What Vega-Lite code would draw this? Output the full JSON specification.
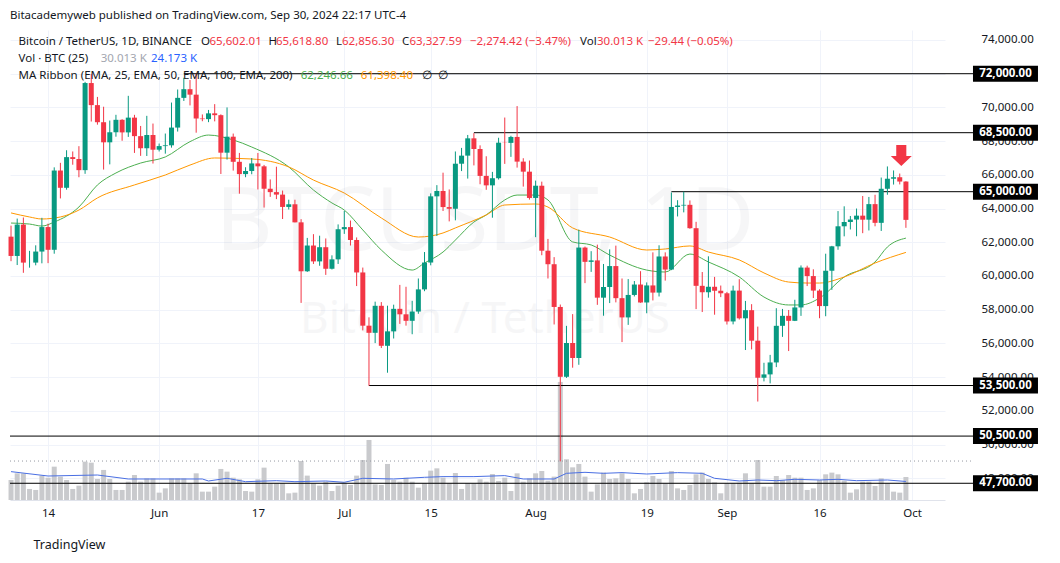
{
  "$schema": "https://vega.github.io/schema/vega-lite/v6.json",
  "width": 935,
  "height": 470,
  "autosize": {"type": "none"},
  "padding": {"left": 10, "top": 30, "right": 115, "bottom": 63},
  "background": "#ffffff",
  "title": {"text": "Bitacademyweb published on TradingView.com, Sep 30, 2024 22:17 UTC-4", "anchor": "start", "frame": "group", "offset": 9, "fontSize": 11.5, "fontWeight": "normal", "color": "#131722", "font": "Noto Sans"},
  "config": {"view": {"stroke": null}, "font": "Noto Sans", "text": {"font": "Noto Sans"}},
  "datasets": {
    "one": [{"k": 1}],
    "candles": [
      {"date":"2024-05-08","open":62332,"high":62986,"low":60877,"close":61187,"volume":26.1},
      {"date":"2024-05-09","open":61187,"high":63404,"low":60648,"close":63049,"volume":34.8},
      {"date":"2024-05-10","open":63049,"high":63469,"low":60187,"close":60792,"volume":34.8},
      {"date":"2024-05-11","open":60792,"high":61490,"low":60492,"close":60793,"volume":14.4},
      {"date":"2024-05-12","open":60793,"high":61818,"low":60632,"close":61448,"volume":13.1},
      {"date":"2024-05-13","open":61448,"high":63450,"low":60750,"close":62901,"volume":31.8},
      {"date":"2024-05-14","open":62901,"high":63102,"low":60760,"close":61553,"volume":29.1},
      {"date":"2024-05-15","open":61553,"high":66444,"low":61320,"close":66256,"volume":43.5},
      {"date":"2024-05-16","open":66256,"high":66712,"low":64600,"close":65231,"volume":30.5},
      {"date":"2024-05-17","open":65231,"high":67459,"low":65119,"close":67051,"volume":26.1},
      {"date":"2024-05-18","open":67051,"high":67387,"low":66600,"close":66940,"volume":14.4},
      {"date":"2024-05-19","open":66940,"high":67700,"low":65857,"close":66278,"volume":18.7},
      {"date":"2024-05-20","open":66278,"high":71515,"low":66060,"close":71446,"volume":50.0},
      {"date":"2024-05-21","open":71446,"high":71979,"low":69162,"close":70136,"volume":48.7},
      {"date":"2024-05-22","open":70136,"high":70623,"low":68977,"close":69122,"volume":27.4},
      {"date":"2024-05-23","open":69122,"high":70041,"low":66312,"close":67929,"volume":39.2},
      {"date":"2024-05-24","open":67929,"high":69220,"low":66622,"close":68526,"volume":27.4},
      {"date":"2024-05-25","open":68526,"high":69562,"low":68262,"close":69265,"volume":13.1},
      {"date":"2024-05-26","open":69265,"high":69300,"low":68022,"close":68518,"volume":13.1},
      {"date":"2024-05-27","open":68518,"high":70687,"low":68250,"close":69394,"volume":23.9},
      {"date":"2024-05-28","open":69394,"high":69560,"low":67300,"close":68296,"volume":32.6},
      {"date":"2024-05-29","open":68296,"high":68900,"low":67125,"close":67578,"volume":23.9},
      {"date":"2024-05-30","open":67578,"high":69500,"low":67118,"close":68364,"volume":28.3},
      {"date":"2024-05-31","open":68364,"high":69042,"low":66670,"close":67491,"volume":28.3},
      {"date":"2024-06-01","open":67491,"high":67857,"low":67387,"close":67706,"volume":9.6},
      {"date":"2024-06-02","open":67706,"high":68450,"low":67257,"close":67751,"volume":15.2},
      {"date":"2024-06-03","open":67751,"high":70288,"low":67613,"close":68804,"volume":28.3},
      {"date":"2024-06-04","open":68804,"high":71063,"low":68567,"close":70567,"volume":28.3},
      {"date":"2024-06-05","open":70567,"high":71758,"low":70383,"close":71082,"volume":28.3},
      {"date":"2024-06-06","open":71082,"high":71625,"low":70119,"close":70757,"volume":21.8},
      {"date":"2024-06-07","open":70757,"high":71997,"low":68500,"close":69342,"volume":34.8},
      {"date":"2024-06-08","open":69342,"high":69584,"low":69180,"close":69305,"volume":10.9},
      {"date":"2024-06-09","open":69305,"high":69850,"low":69125,"close":69648,"volume":10.9},
      {"date":"2024-06-10","open":69648,"high":70195,"low":69172,"close":69540,"volume":17.4},
      {"date":"2024-06-11","open":69540,"high":69590,"low":66051,"close":67314,"volume":40.5},
      {"date":"2024-06-12","open":67314,"high":69999,"low":66905,"close":68263,"volume":37.0},
      {"date":"2024-06-13","open":68263,"high":68449,"low":66251,"close":66773,"volume":29.1},
      {"date":"2024-06-14","open":66773,"high":67300,"low":64882,"close":66043,"volume":27.0},
      {"date":"2024-06-15","open":66043,"high":66450,"low":65858,"close":66229,"volume":11.7},
      {"date":"2024-06-16","open":66229,"high":66998,"low":66034,"close":66677,"volume":10.9},
      {"date":"2024-06-17","open":66677,"high":67298,"low":65130,"close":66505,"volume":27.0},
      {"date":"2024-06-18","open":66505,"high":66588,"low":64060,"close":65175,"volume":42.2},
      {"date":"2024-06-19","open":65175,"high":65727,"low":64693,"close":64974,"volume":21.8},
      {"date":"2024-06-20","open":64974,"high":66482,"low":64559,"close":64828,"volume":21.8},
      {"date":"2024-06-21","open":64828,"high":65066,"low":63379,"close":64096,"volume":21.8},
      {"date":"2024-06-22","open":64096,"high":64525,"low":63943,"close":64253,"volume":8.7},
      {"date":"2024-06-23","open":64253,"high":64523,"low":63180,"close":63181,"volume":9.6},
      {"date":"2024-06-24","open":63181,"high":63370,"low":58402,"close":60277,"volume":50.9},
      {"date":"2024-06-25","open":60277,"high":62258,"low":60240,"close":61806,"volume":31.8},
      {"date":"2024-06-26","open":61806,"high":62480,"low":60712,"close":60864,"volume":21.8},
      {"date":"2024-06-27","open":60864,"high":62389,"low":60606,"close":61706,"volume":18.7},
      {"date":"2024-06-28","open":61706,"high":62225,"low":60063,"close":60427,"volume":23.9},
      {"date":"2024-06-29","open":60427,"high":61224,"low":60383,"close":60986,"volume":11.7},
      {"date":"2024-06-30","open":60986,"high":63058,"low":60712,"close":62772,"volume":18.7},
      {"date":"2024-07-01","open":62772,"high":63861,"low":62497,"close":62900,"volume":21.8},
      {"date":"2024-07-02","open":62900,"high":63288,"low":61806,"close":62135,"volume":19.6},
      {"date":"2024-07-03","open":62135,"high":62285,"low":59400,"close":60208,"volume":31.8},
      {"date":"2024-07-04","open":60208,"high":60498,"low":56771,"close":57050,"volume":52.2},
      {"date":"2024-07-05","open":57050,"high":57546,"low":53485,"close":56628,"volume":78.3},
      {"date":"2024-07-06","open":56628,"high":58475,"low":56018,"close":58230,"volume":20.4},
      {"date":"2024-07-07","open":58230,"high":58449,"low":55724,"close":55857,"volume":19.6},
      {"date":"2024-07-08","open":55857,"high":58236,"low":54260,"close":56714,"volume":47.0},
      {"date":"2024-07-09","open":56714,"high":58296,"low":56290,"close":58050,"volume":26.1},
      {"date":"2024-07-10","open":58050,"high":59470,"low":57157,"close":57725,"volume":23.9},
      {"date":"2024-07-11","open":57725,"high":59359,"low":57052,"close":57339,"volume":29.1},
      {"date":"2024-07-12","open":57339,"high":58526,"low":56542,"close":57889,"volume":23.9},
      {"date":"2024-07-13","open":57889,"high":59850,"low":57756,"close":59204,"volume":16.1},
      {"date":"2024-07-14","open":59204,"high":61420,"low":59096,"close":60797,"volume":21.8},
      {"date":"2024-07-15","open":60797,"high":64900,"low":60632,"close":64724,"volume":38.3},
      {"date":"2024-07-16","open":64724,"high":65388,"low":62373,"close":65043,"volume":41.3},
      {"date":"2024-07-17","open":65043,"high":66128,"low":63854,"close":64087,"volume":29.1},
      {"date":"2024-07-18","open":64087,"high":65133,"low":63238,"close":63987,"volume":21.8},
      {"date":"2024-07-19","open":63987,"high":67386,"low":63300,"close":66660,"volume":35.2},
      {"date":"2024-07-20","open":66660,"high":67598,"low":66222,"close":67139,"volume":14.4},
      {"date":"2024-07-21","open":67139,"high":68366,"low":65777,"close":68165,"volume":21.8},
      {"date":"2024-07-22","open":68165,"high":68474,"low":66559,"close":67532,"volume":21.8},
      {"date":"2024-07-23","open":67532,"high":67750,"low":65441,"close":65936,"volume":27.0},
      {"date":"2024-07-24","open":65936,"high":67102,"low":65111,"close":65376,"volume":23.9},
      {"date":"2024-07-25","open":65376,"high":66175,"low":63456,"close":65799,"volume":33.9},
      {"date":"2024-07-26","open":65799,"high":68200,"low":65722,"close":67907,"volume":24.8},
      {"date":"2024-07-27","open":67907,"high":69399,"low":66650,"close":67896,"volume":29.1},
      {"date":"2024-07-28","open":67896,"high":68318,"low":67066,"close":68249,"volume":11.7},
      {"date":"2024-07-29","open":68249,"high":70079,"low":66428,"close":66784,"volume":34.8},
      {"date":"2024-07-30","open":66784,"high":66984,"low":65302,"close":66188,"volume":23.9},
      {"date":"2024-07-31","open":66188,"high":66849,"low":64530,"close":64628,"volume":28.3},
      {"date":"2024-08-01","open":64628,"high":65659,"low":62302,"close":65354,"volume":34.8},
      {"date":"2024-08-02","open":65354,"high":65596,"low":61230,"close":61498,"volume":37.8},
      {"date":"2024-08-03","open":61498,"high":62198,"low":59850,"close":60697,"volume":25.2},
      {"date":"2024-08-04","open":60697,"high":61117,"low":57122,"close":58161,"volume":30.5},
      {"date":"2024-08-05","open":58161,"high":58305,"low":49000,"close":54018,"volume":154},
      {"date":"2024-08-06","open":54018,"high":57040,"low":53950,"close":56022,"volume":53.1},
      {"date":"2024-08-07","open":56022,"high":57736,"low":54558,"close":55134,"volume":42.6},
      {"date":"2024-08-08","open":55134,"high":62745,"low":54730,"close":61685,"volume":47.0},
      {"date":"2024-08-09","open":61685,"high":61744,"low":59575,"close":60837,"volume":30.5},
      {"date":"2024-08-10","open":60837,"high":61470,"low":60242,"close":60923,"volume":10.9},
      {"date":"2024-08-11","open":60923,"high":61858,"low":58286,"close":58712,"volume":20.4},
      {"date":"2024-08-12","open":58712,"high":60711,"low":57642,"close":59346,"volume":35.7},
      {"date":"2024-08-13","open":59346,"high":61578,"low":58392,"close":60587,"volume":27.4},
      {"date":"2024-08-14","open":60587,"high":61800,"low":58433,"close":58683,"volume":28.3},
      {"date":"2024-08-15","open":58683,"high":59849,"low":56078,"close":57541,"volume":34.8},
      {"date":"2024-08-16","open":57541,"high":59817,"low":57098,"close":58874,"volume":27.4},
      {"date":"2024-08-17","open":58874,"high":59700,"low":58785,"close":59491,"volume":8.7},
      {"date":"2024-08-18","open":59491,"high":60284,"low":58408,"close":58427,"volume":14.4},
      {"date":"2024-08-19","open":58427,"high":59617,"low":57787,"close":59438,"volume":23.1},
      {"date":"2024-08-20","open":59438,"high":61400,"low":58548,"close":59013,"volume":31.3},
      {"date":"2024-08-21","open":59013,"high":61820,"low":58783,"close":61156,"volume":27.4},
      {"date":"2024-08-22","open":61156,"high":61400,"low":59724,"close":60381,"volume":21.8},
      {"date":"2024-08-23","open":60381,"high":64955,"low":60345,"close":64094,"volume":37.8},
      {"date":"2024-08-24","open":64094,"high":64494,"low":63531,"close":64178,"volume":15.2},
      {"date":"2024-08-25","open":64178,"high":65000,"low":63773,"close":64220,"volume":13.1},
      {"date":"2024-08-26","open":64220,"high":64481,"low":62800,"close":62834,"volume":19.6},
      {"date":"2024-08-27","open":62834,"high":63212,"low":58034,"close":59415,"volume":33.5},
      {"date":"2024-08-28","open":59415,"high":60234,"low":57860,"close":59034,"volume":35.7},
      {"date":"2024-08-29","open":59034,"high":61166,"low":58713,"close":59359,"volume":27.4},
      {"date":"2024-08-30","open":59359,"high":59944,"low":57701,"close":59123,"volume":23.1},
      {"date":"2024-08-31","open":59123,"high":59432,"low":58745,"close":58973,"volume":8.7},
      {"date":"2024-09-01","open":58973,"high":59054,"low":57119,"close":57301,"volume":21.8},
      {"date":"2024-09-02","open":57301,"high":59425,"low":57128,"close":59132,"volume":21.8},
      {"date":"2024-09-03","open":59132,"high":59809,"low":57415,"close":57487,"volume":22.6},
      {"date":"2024-09-04","open":57487,"high":58519,"low":55606,"close":57970,"volume":34.8},
      {"date":"2024-09-05","open":57970,"high":58327,"low":55643,"close":56160,"volume":21.8},
      {"date":"2024-09-06","open":56160,"high":56995,"low":52550,"close":53962,"volume":52.2},
      {"date":"2024-09-07","open":53962,"high":54850,"low":53745,"close":54160,"volume":17.4},
      {"date":"2024-09-08","open":54160,"high":55318,"low":53629,"close":54869,"volume":17.4},
      {"date":"2024-09-09","open":54869,"high":58088,"low":54591,"close":57042,"volume":31.3},
      {"date":"2024-09-10","open":57042,"high":58044,"low":56386,"close":57635,"volume":26.1},
      {"date":"2024-09-11","open":57635,"high":57981,"low":55545,"close":57338,"volume":32.6},
      {"date":"2024-09-12","open":57338,"high":58588,"low":57324,"close":58132,"volume":29.1},
      {"date":"2024-09-13","open":58132,"high":60625,"low":57632,"close":60498,"volume":29.1},
      {"date":"2024-09-14","open":60498,"high":60610,"low":59400,"close":59993,"volume":13.1},
      {"date":"2024-09-15","open":59993,"high":60395,"low":58692,"close":59132,"volume":15.2},
      {"date":"2024-09-16","open":59132,"high":59210,"low":57493,"close":58213,"volume":26.1},
      {"date":"2024-09-17","open":58213,"high":61320,"low":57610,"close":60309,"volume":33.5},
      {"date":"2024-09-18","open":60309,"high":61786,"low":59174,"close":61759,"volume":35.7},
      {"date":"2024-09-19","open":61759,"high":63850,"low":61555,"close":62947,"volume":33.5},
      {"date":"2024-09-20","open":62947,"high":64133,"low":62350,"close":63201,"volume":25.2},
      {"date":"2024-09-21","open":63201,"high":63559,"low":62758,"close":63348,"volume":9.6},
      {"date":"2024-09-22","open":63348,"high":64000,"low":62357,"close":63578,"volume":13.9},
      {"date":"2024-09-23","open":63578,"high":64745,"low":62538,"close":63339,"volume":23.9},
      {"date":"2024-09-24","open":63339,"high":64688,"low":62700,"close":64262,"volume":23.9},
      {"date":"2024-09-25","open":64262,"high":64817,"low":62947,"close":63152,"volume":18.3},
      {"date":"2024-09-26","open":63152,"high":65839,"low":62670,"close":65173,"volume":28.3},
      {"date":"2024-09-27","open":65173,"high":66498,"low":64819,"close":65769,"volume":21.8},
      {"date":"2024-09-28","open":65769,"high":66260,"low":65422,"close":65858,"volume":10.9},
      {"date":"2024-09-29","open":65858,"high":66076,"low":65432,"close":65602,"volume":9.6},
      {"date":"2024-09-30","open":65602.01,"high":65618.8,"low":62856.3,"close":63327.59,"volume":30.013}
    ],
    "ema": [
      {"date":"2024-05-08","series":"EMA 25","value":63140},
      {"date":"2024-05-11","series":"EMA 25","value":63080},
      {"date":"2024-05-13","series":"EMA 25","value":62960},
      {"date":"2024-05-15","series":"EMA 25","value":63200},
      {"date":"2024-05-19","series":"EMA 25","value":64090},
      {"date":"2024-05-22","series":"EMA 25","value":65400},
      {"date":"2024-05-25","series":"EMA 25","value":66110},
      {"date":"2024-05-29","series":"EMA 25","value":66700},
      {"date":"2024-06-02","series":"EMA 25","value":67060},
      {"date":"2024-06-06","series":"EMA 25","value":67970},
      {"date":"2024-06-09","series":"EMA 25","value":68360},
      {"date":"2024-06-13","series":"EMA 25","value":68070},
      {"date":"2024-06-16","series":"EMA 25","value":67650},
      {"date":"2024-06-22","series":"EMA 25","value":66470},
      {"date":"2024-06-26","series":"EMA 25","value":65100},
      {"date":"2024-06-29","series":"EMA 25","value":64330},
      {"date":"2024-07-01","series":"EMA 25","value":63910},
      {"date":"2024-07-04","series":"EMA 25","value":62730},
      {"date":"2024-07-07","series":"EMA 25","value":61540},
      {"date":"2024-07-12","series":"EMA 25","value":60350},
      {"date":"2024-07-14","series":"EMA 25","value":60770},
      {"date":"2024-07-17","series":"EMA 25","value":61420},
      {"date":"2024-07-19","series":"EMA 25","value":62130},
      {"date":"2024-07-22","series":"EMA 25","value":63200},
      {"date":"2024-07-24","series":"EMA 25","value":63620},
      {"date":"2024-07-27","series":"EMA 25","value":64510},
      {"date":"2024-07-29","series":"EMA 25","value":64800},
      {"date":"2024-08-01","series":"EMA 25","value":64800},
      {"date":"2024-08-03","series":"EMA 25","value":64510},
      {"date":"2024-08-07","series":"EMA 25","value":62020},
      {"date":"2024-08-10","series":"EMA 25","value":61840},
      {"date":"2024-08-13","series":"EMA 25","value":61240},
      {"date":"2024-08-19","series":"EMA 25","value":60350},
      {"date":"2024-08-22","series":"EMA 25","value":60235},
      {"date":"2024-08-26","series":"EMA 25","value":61300},
      {"date":"2024-08-29","series":"EMA 25","value":60830},
      {"date":"2024-09-03","series":"EMA 25","value":59940},
      {"date":"2024-09-07","series":"EMA 25","value":58750},
      {"date":"2024-09-11","series":"EMA 25","value":58280},
      {"date":"2024-09-13","series":"EMA 25","value":58280},
      {"date":"2024-09-16","series":"EMA 25","value":58690},
      {"date":"2024-09-20","series":"EMA 25","value":59940},
      {"date":"2024-09-25","series":"EMA 25","value":60830},
      {"date":"2024-09-27","series":"EMA 25","value":61720},
      {"date":"2024-09-30","series":"EMA 25","value":62246.66},
      {"date":"2024-05-08","series":"EMA 50","value":63740},
      {"date":"2024-05-11","series":"EMA 50","value":63500},
      {"date":"2024-05-13","series":"EMA 50","value":63380},
      {"date":"2024-05-16","series":"EMA 50","value":63500},
      {"date":"2024-05-19","series":"EMA 50","value":63910},
      {"date":"2024-05-22","series":"EMA 50","value":64630},
      {"date":"2024-05-28","series":"EMA 50","value":65400},
      {"date":"2024-06-02","series":"EMA 50","value":65990},
      {"date":"2024-06-06","series":"EMA 50","value":66580},
      {"date":"2024-06-10","series":"EMA 50","value":67000},
      {"date":"2024-06-16","series":"EMA 50","value":66940},
      {"date":"2024-06-22","series":"EMA 50","value":66470},
      {"date":"2024-06-26","series":"EMA 50","value":65690},
      {"date":"2024-07-01","series":"EMA 50","value":64920},
      {"date":"2024-07-07","series":"EMA 50","value":63440},
      {"date":"2024-07-13","series":"EMA 50","value":62310},
      {"date":"2024-07-17","series":"EMA 50","value":62550},
      {"date":"2024-07-19","series":"EMA 50","value":62850},
      {"date":"2024-07-24","series":"EMA 50","value":63620},
      {"date":"2024-07-27","series":"EMA 50","value":64210},
      {"date":"2024-08-01","series":"EMA 50","value":64270},
      {"date":"2024-08-03","series":"EMA 50","value":64090},
      {"date":"2024-08-07","series":"EMA 50","value":62850},
      {"date":"2024-08-13","series":"EMA 50","value":62310},
      {"date":"2024-08-19","series":"EMA 50","value":61540},
      {"date":"2024-08-22","series":"EMA 50","value":61600},
      {"date":"2024-08-26","series":"EMA 50","value":61780},
      {"date":"2024-08-29","series":"EMA 50","value":61420},
      {"date":"2024-09-03","series":"EMA 50","value":60950},
      {"date":"2024-09-07","series":"EMA 50","value":60180},
      {"date":"2024-09-11","series":"EMA 50","value":59640},
      {"date":"2024-09-14","series":"EMA 50","value":59580},
      {"date":"2024-09-16","series":"EMA 50","value":59580},
      {"date":"2024-09-20","series":"EMA 50","value":59940},
      {"date":"2024-09-25","series":"EMA 50","value":60770},
      {"date":"2024-09-30","series":"EMA 50","value":61398.4}
    ],
    "volma": [
      {"date":"2024-05-08","value":37.0},
      {"date":"2024-05-14","value":31.3},
      {"date":"2024-05-22","value":32.6},
      {"date":"2024-05-27","value":27.4},
      {"date":"2024-06-08","value":27.4},
      {"date":"2024-06-09","value":24.8},
      {"date":"2024-06-12","value":28.3},
      {"date":"2024-06-15","value":23.9},
      {"date":"2024-06-20","value":25.2},
      {"date":"2024-06-23","value":23.9},
      {"date":"2024-06-28","value":24.8},
      {"date":"2024-07-01","value":23.1},
      {"date":"2024-07-04","value":28.3},
      {"date":"2024-07-09","value":27.4},
      {"date":"2024-07-14","value":29.6},
      {"date":"2024-07-17","value":30.5},
      {"date":"2024-07-22","value":30.5},
      {"date":"2024-07-27","value":31.8},
      {"date":"2024-07-30","value":27.4},
      {"date":"2024-08-04","value":27.4},
      {"date":"2024-08-06","value":34.8},
      {"date":"2024-08-09","value":36.1},
      {"date":"2024-08-12","value":34.8},
      {"date":"2024-08-15","value":35.7},
      {"date":"2024-08-19","value":33.9},
      {"date":"2024-08-24","value":35.7},
      {"date":"2024-08-28","value":34.8},
      {"date":"2024-08-30","value":28.3},
      {"date":"2024-09-03","value":24.8},
      {"date":"2024-09-06","value":26.1},
      {"date":"2024-09-09","value":25.2},
      {"date":"2024-09-12","value":27.0},
      {"date":"2024-09-16","value":26.1},
      {"date":"2024-09-19","value":27.0},
      {"date":"2024-09-22","value":25.2},
      {"date":"2024-09-27","value":26.1},
      {"date":"2024-09-30","value":24.173}
    ],
    "levels": [
      {"price":72000,"from":"2024-06-05","kind":"level"},
      {"price":68500,"from":"2024-07-22","kind":"level"},
      {"price":65000,"from":"2024-08-23","kind":"level"},
      {"price":53500,"from":"2024-07-05","kind":"level"},
      {"price":50500,"from":"2024-05-07T20:00:00Z","kind":"level"},
      {"price":47700,"from":"2024-05-07T20:00:00Z","kind":"level"},
      {"price":49020,"from":"2024-05-07T20:00:00Z","kind":"dotted"}
    ]
  },
  "resolve": {"scale": {"y": "independent"}},
  "layer": [
    {
      "data": {"name": "ema"},
      "mark": {"type": "line", "strokeWidth": 1, "interpolate": "monotone"},
      "encoding": {
        "x": {"field": "date", "type": "temporal", "title": "TradingView",
          "scale": {"type": "utc", "domain": [1715112000000, 1728201600000], "nice": false, "padding": 0},
          "axis": {
            "values": [1715644800000, 1717200000000, 1718582400000, 1719792000000, 1721001600000, 1722470400000, 1724025600000, 1725148800000, 1726444800000, 1727740800000],
            "labelExpr": "utcdate(datum.value) === 1 ? utcFormat(datum.value, '%b') : utcFormat(datum.value, '%-d')",
            "grid": true, "gridColor": "#f0f3fa", "ticks": false, "tickSize": 0, "domain": true, "domainColor": "#e0e3eb",
            "labelFontSize": 11.5, "labelColor": "#131722", "labelPadding": 7, "labelFlush": false, "labelOverlap": false,
            "titleAnchor": "start", "titleAlign": "left", "titleX": 23, "titleFontSize": 12.5, "titleFontWeight": "normal", "titleColor": "#131722", "titlePadding": 20
          }
        },
        "y": {"field": "value", "type": "quantitative", "title": null,
          "scale": {"domain": [46708, 74593], "nice": false, "zero": false},
          "axis": {
            "orient": "right",
            "values": [48000, 50000, 52000, 54000, 56000, 58000, 60000, 62000, 64000, 66000, 68000, 70000, 72000, 74000],
            "format": ",.2f", "grid": true, "gridColor": "#f0f3fa", "ticks": false, "tickSize": 0, "domain": false,
            "labelAlign": "left", "labelBaseline": "middle", "labelPadding": 36, "labelFontSize": 11.5, "labelColor": "#131722", "labelOverlap": false, "labelFlush": false
          }
        },
        "color": {"field": "series", "type": "nominal", "scale": {"domain": ["EMA 25", "EMA 50"], "range": ["#4caf50", "#ff9800"]}, "legend": null}
      }
    },
    {
      "data": {"name": "candles"},
      "layer": [
        {
          "mark": {"type": "bar", "width": 5, "color": "#c9cacd"},
          "encoding": {
            "x": {"field": "date", "type": "temporal"},
            "y": {"field": "volume", "type": "quantitative", "scale": {"domain": [0, 613], "nice": false, "zero": true}, "axis": null}
          }
        },
        {
          "data": {"name": "volma"},
          "mark": {"type": "line", "color": "#4a6fe3", "strokeWidth": 1},
          "encoding": {
            "x": {"field": "date", "type": "temporal"},
            "y": {"field": "value", "type": "quantitative", "axis": null}
          }
        }
      ]
    },
    {
      "layer": [
        {
          "data": {"name": "one"},
          "mark": {"type": "text", "text": "BTCUSDT, 1D", "fontSize": 88, "color": "#9598a1", "opacity": 0.08, "align": "center", "baseline": "alphabetic"},
          "encoding": {
            "x": {"datum": 1721762208000, "type": "temporal"},
            "y": {"datum": 61541, "type": "quantitative", "scale": {"domain": [46708, 74593], "nice": false, "zero": false}, "axis": null}
          }
        },
        {
          "data": {"name": "one"},
          "mark": {"type": "text", "text": "Bitcoin / TetherUS", "fontSize": 44, "color": "#9598a1", "opacity": 0.08, "align": "center", "baseline": "alphabetic"},
          "encoding": {
            "x": {"datum": 1721762208000, "type": "temporal"},
            "y": {"datum": 56617, "type": "quantitative", "axis": null}
          }
        },
        {
          "data": {"name": "levels"},
          "transform": [{"filter": "datum.kind === 'level'"}],
          "mark": {"type": "rule", "color": "#000000", "strokeWidth": 1},
          "encoding": {
            "x": {"field": "from", "type": "temporal"},
            "x2": {"datum": 1728593856000},
            "y": {"field": "price", "type": "quantitative", "axis": null}
          }
        },
        {
          "data": {"name": "levels"},
          "transform": [{"filter": "datum.kind === 'dotted'"}],
          "mark": {"type": "rule", "color": "#9598a1", "strokeWidth": 1, "strokeDash": [1, 3]},
          "encoding": {
            "x": {"field": "from", "type": "temporal"},
            "x2": {"datum": 1728565344000},
            "y": {"field": "price", "type": "quantitative", "axis": null}
          }
        },
        {
          "data": {"name": "candles"},
          "transform": [{"filter": "datum.date === '2024-09-30'"}],
          "mark": {"type": "rule", "color": "#f23645", "strokeWidth": 1, "strokeDash": [1, 2]},
          "encoding": {
            "x": {"datum": 1715112000000, "type": "temporal"},
            "x2": {"datum": 1728593856000},
            "y": {"field": "close", "type": "quantitative", "axis": null}
          }
        },
        {
          "data": {"name": "candles"},
          "mark": {"type": "rule", "strokeWidth": 1},
          "encoding": {
            "x": {"field": "date", "type": "temporal"},
            "y": {"field": "low", "type": "quantitative", "axis": null},
            "y2": {"field": "high"},
            "color": {"condition": {"test": "datum.close >= datum.open", "value": "#089981"}, "value": "#f23645"}
          }
        },
        {
          "data": {"name": "candles"},
          "mark": {"type": "bar", "width": 5},
          "encoding": {
            "x": {"field": "date", "type": "temporal"},
            "y": {"field": "open", "type": "quantitative", "axis": null},
            "y2": {"field": "close"},
            "color": {"condition": {"test": "datum.close >= datum.open", "value": "#089981"}, "value": "#f23645"}
          }
        },
        {
          "data": {"name": "one"},
          "mark": {"type": "point", "shape": "M-0.48,-1L0.48,-1L0.48,0.05L1,0.05L0,1L-1,0.05L-0.48,0.05Z", "size": 441, "filled": true, "color": "#f23645", "opacity": 1, "strokeWidth": 0},
          "encoding": {
            "x": {"datum": 1727589600000, "type": "temporal"},
            "y": {"datum": 67150, "type": "quantitative", "axis": null}
          }
        },
        {
          "data": {"name": "levels"},
          "transform": [{"filter": "datum.kind === 'level'"}],
          "mark": {"type": "point", "shape": "M-1,-0.246L1,-0.246L1,0.246L-1,0.246Z", "size": 4225, "filled": true, "color": "#000000", "opacity": 1, "strokeWidth": 0},
          "encoding": {
            "x": {"datum": 1729048320000, "type": "temporal"},
            "y": {"field": "price", "type": "quantitative", "axis": null}
          }
        },
        {
          "data": {"name": "levels"},
          "transform": [{"filter": "datum.kind === 'level'"}],
          "mark": {"type": "text", "color": "#ffffff", "fontWeight": "bold", "fontSize": 11.5, "align": "center", "baseline": "middle"},
          "encoding": {
            "x": {"datum": 1729048320000, "type": "temporal"},
            "y": {"field": "price", "type": "quantitative", "axis": null},
            "text": {"field": "price", "type": "quantitative", "format": ",.2f"}
          }
        },
        {
          "data": {"name": "candles"},
          "transform": [{"filter": "datum.date === '2024-09-30'"}],
          "mark": {"type": "point", "shape": "M-1,-0.246L1,-0.246L1,0.246L-1,0.246Z", "size": 4225, "filled": true, "color": "#f23645", "opacity": 1, "strokeWidth": 0},
          "encoding": {
            "x": {"datum": 1729048320000, "type": "temporal"},
            "y": {"field": "close", "type": "quantitative", "axis": null}
          }
        },
        {
          "data": {"name": "candles"},
          "transform": [{"filter": "datum.date === '2024-09-30'"}],
          "mark": {"type": "text", "color": "#ffffff", "fontWeight": "bold", "fontSize": 11.5, "align": "center", "baseline": "middle"},
          "encoding": {
            "x": {"datum": 1729048320000, "type": "temporal"},
            "y": {"field": "close", "type": "quantitative", "axis": null},
            "text": {"field": "close", "type": "quantitative", "format": ",.2f"}
          }
        },
        {"data": {"name": "one"}, "mark": {"type": "text", "text": "Bitcoin / TetherUS, 1D, BINANCE", "dx": 8.6, "align": "left", "baseline": "middle", "fontSize": 11.5, "color": "#131722"},
         "encoding": {"x": {"datum": 1715112000000, "type": "temporal"}, "y": {"datum": 73899, "type": "quantitative", "axis": null}}},
        {"data": {"name": "one"}, "mark": {"type": "text", "text": "O", "dx": 191, "align": "left", "baseline": "middle", "fontSize": 11.5, "color": "#131722"},
         "encoding": {"x": {"datum": 1715112000000, "type": "temporal"}, "y": {"datum": 73899, "type": "quantitative", "axis": null}}},
        {"data": {"name": "one"}, "mark": {"type": "text", "text": "65,602.01", "dx": 199.5, "align": "left", "baseline": "middle", "fontSize": 11.5, "color": "#f23645"},
         "encoding": {"x": {"datum": 1715112000000, "type": "temporal"}, "y": {"datum": 73899, "type": "quantitative", "axis": null}}},
        {"data": {"name": "one"}, "mark": {"type": "text", "text": "H", "dx": 258.6, "align": "left", "baseline": "middle", "fontSize": 11.5, "color": "#131722"},
         "encoding": {"x": {"datum": 1715112000000, "type": "temporal"}, "y": {"datum": 73899, "type": "quantitative", "axis": null}}},
        {"data": {"name": "one"}, "mark": {"type": "text", "text": "65,618.80", "dx": 266, "align": "left", "baseline": "middle", "fontSize": 11.5, "color": "#f23645"},
         "encoding": {"x": {"datum": 1715112000000, "type": "temporal"}, "y": {"datum": 73899, "type": "quantitative", "axis": null}}},
        {"data": {"name": "one"}, "mark": {"type": "text", "text": "L", "dx": 326, "align": "left", "baseline": "middle", "fontSize": 11.5, "color": "#131722"},
         "encoding": {"x": {"datum": 1715112000000, "type": "temporal"}, "y": {"datum": 73899, "type": "quantitative", "axis": null}}},
        {"data": {"name": "one"}, "mark": {"type": "text", "text": "62,856.30", "dx": 332, "align": "left", "baseline": "middle", "fontSize": 11.5, "color": "#f23645"},
         "encoding": {"x": {"datum": 1715112000000, "type": "temporal"}, "y": {"datum": 73899, "type": "quantitative", "axis": null}}},
        {"data": {"name": "one"}, "mark": {"type": "text", "text": "C", "dx": 392, "align": "left", "baseline": "middle", "fontSize": 11.5, "color": "#131722"},
         "encoding": {"x": {"datum": 1715112000000, "type": "temporal"}, "y": {"datum": 73899, "type": "quantitative", "axis": null}}},
        {"data": {"name": "one"}, "mark": {"type": "text", "text": "63,327.59", "dx": 399.5, "align": "left", "baseline": "middle", "fontSize": 11.5, "color": "#f23645"},
         "encoding": {"x": {"datum": 1715112000000, "type": "temporal"}, "y": {"datum": 73899, "type": "quantitative", "axis": null}}},
        {"data": {"name": "one"}, "mark": {"type": "text", "text": "−2,274.42 (−3.47%)", "dx": 460, "align": "left", "baseline": "middle", "fontSize": 11.5, "color": "#f23645"},
         "encoding": {"x": {"datum": 1715112000000, "type": "temporal"}, "y": {"datum": 73899, "type": "quantitative", "axis": null}}},
        {"data": {"name": "one"}, "mark": {"type": "text", "text": "Vol", "dx": 570, "align": "left", "baseline": "middle", "fontSize": 11.5, "color": "#131722"},
         "encoding": {"x": {"datum": 1715112000000, "type": "temporal"}, "y": {"datum": 73899, "type": "quantitative", "axis": null}}},
        {"data": {"name": "one"}, "mark": {"type": "text", "text": "30.013 K", "dx": 587, "align": "left", "baseline": "middle", "fontSize": 11.5, "color": "#f23645"},
         "encoding": {"x": {"datum": 1715112000000, "type": "temporal"}, "y": {"datum": 73899, "type": "quantitative", "axis": null}}},
        {"data": {"name": "one"}, "mark": {"type": "text", "text": "−29.44 (−0.05%)", "dx": 638, "align": "left", "baseline": "middle", "fontSize": 11.5, "color": "#f23645"},
         "encoding": {"x": {"datum": 1715112000000, "type": "temporal"}, "y": {"datum": 73899, "type": "quantitative", "axis": null}}},
        {"data": {"name": "one"}, "mark": {"type": "text", "text": "Vol · BTC (25)", "dx": 8.6, "align": "left", "baseline": "middle", "fontSize": 11.5, "color": "#131722"},
         "encoding": {"x": {"datum": 1715112000000, "type": "temporal"}, "y": {"datum": 72855, "type": "quantitative", "axis": null}}},
        {"data": {"name": "one"}, "mark": {"type": "text", "text": "30.013 K", "dx": 90.7, "align": "left", "baseline": "middle", "fontSize": 11.5, "color": "#a3a6af"},
         "encoding": {"x": {"datum": 1715112000000, "type": "temporal"}, "y": {"datum": 72855, "type": "quantitative", "axis": null}}},
        {"data": {"name": "one"}, "mark": {"type": "text", "text": "24.173 K", "dx": 141, "align": "left", "baseline": "middle", "fontSize": 11.5, "color": "#2962ff"},
         "encoding": {"x": {"datum": 1715112000000, "type": "temporal"}, "y": {"datum": 72855, "type": "quantitative", "axis": null}}},
        {"data": {"name": "one"}, "mark": {"type": "text", "text": "MA Ribbon (EMA, 25, EMA, 50, EMA, 100, EMA, 200)", "dx": 8.6, "align": "left", "baseline": "middle", "fontSize": 11.5, "color": "#131722"},
         "encoding": {"x": {"datum": 1715112000000, "type": "temporal"}, "y": {"datum": 71864, "type": "quantitative", "axis": null}}},
        {"data": {"name": "one"}, "mark": {"type": "text", "text": "62,246.66", "dx": 290.7, "align": "left", "baseline": "middle", "fontSize": 11.5, "color": "#4caf50"},
         "encoding": {"x": {"datum": 1715112000000, "type": "temporal"}, "y": {"datum": 71864, "type": "quantitative", "axis": null}}},
        {"data": {"name": "one"}, "mark": {"type": "text", "text": "61,398.40", "dx": 350.8, "align": "left", "baseline": "middle", "fontSize": 11.5, "color": "#ff9800"},
         "encoding": {"x": {"datum": 1715112000000, "type": "temporal"}, "y": {"datum": 71864, "type": "quantitative", "axis": null}}},
        {"data": {"name": "one"}, "mark": {"type": "text", "text": "∅", "dx": 412, "align": "left", "baseline": "middle", "fontSize": 11.5, "color": "#131722"},
         "encoding": {"x": {"datum": 1715112000000, "type": "temporal"}, "y": {"datum": 71864, "type": "quantitative", "axis": null}}},
        {"data": {"name": "one"}, "mark": {"type": "text", "text": "∅", "dx": 428, "align": "left", "baseline": "middle", "fontSize": 11.5, "color": "#131722"},
         "encoding": {"x": {"datum": 1715112000000, "type": "temporal"}, "y": {"datum": 71864, "type": "quantitative", "axis": null}}}
      ]
    }
  ]
}
